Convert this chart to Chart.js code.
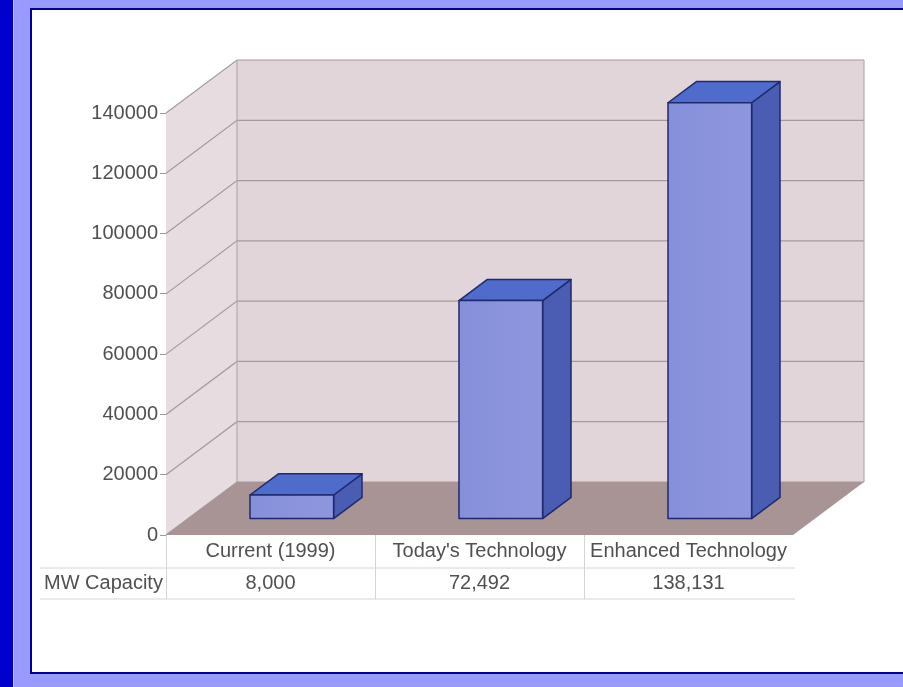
<!DOCTYPE html>
<html>
<head>
<meta charset="utf-8">
<title>MW Capacity</title>
<script src="https://cdn.jsdelivr.net/npm/chart.js@4.4.1/dist/chart.umd.min.js"></script>
<style>
  body { margin: 0; }
  #frame {
    position: relative; width: 903px; height: 687px; overflow: hidden;
    background: linear-gradient(to right, #0000cc 0, #0000cc 13px, #c4ccff 13px, #c4ccff 14px, #9999ff 14px);
  }
  #panel {
    position: absolute; left: 30px; top: 8px; width: 900px; height: 662px;
    background: #fff; border: 2px solid #000099;
  }
  #capacity { position: absolute; left: 0; top: 0; }
</style>
</head>
<body>
<div id="frame">
  <div id="panel"></div>
  <canvas id="capacity" width="903" height="687"></canvas>
</div>
<script>
// data
const scenarios = ['Current (1999)', "Today's Technology", 'Enhanced Technology'];
const mwCapacity = [8000, 72492, 138131];
const rowLabel = 'MW Capacity';
const yTicks = [0, 20000, 40000, 60000, 80000, 100000, 120000, 140000];

const textFont = '20px "Liberation Sans", Arial, sans-serif';
const textColor = '#505050';

// depth of the 3d box: back wall offset and bar slot inside it
const depth = { dx: 71, dy: -53 };
const barFront = 0.3, barBack = 0.7;

// walls, floor and gridlines behind the bars
const walls = {
  id: 'walls',
  beforeDatasetsDraw(chart) {
    const { ctx, chartArea: a, scales: { y } } = chart;
    const bl = a.left + depth.dx, br = a.right + depth.dx;
    const top = y.getPixelForValue(140000), bottom = y.getPixelForValue(0);
    ctx.save();
    // left side wall
    ctx.fillStyle = '#e7dde0';
    ctx.beginPath();
    ctx.moveTo(a.left, bottom);
    ctx.lineTo(bl, bottom + depth.dy);
    ctx.lineTo(bl, top + depth.dy);
    ctx.lineTo(a.left, top);
    ctx.closePath();
    ctx.fill();
    // back wall
    ctx.fillStyle = '#e2d5d9';
    ctx.fillRect(bl, top + depth.dy, br - bl, bottom - top);
    // gridlines
    ctx.strokeStyle = '#a39a9c';
    ctx.lineWidth = 1.2;
    yTicks.forEach(v => {
      const py = y.getPixelForValue(v);
      ctx.beginPath();
      ctx.moveTo(a.left, py);
      ctx.lineTo(bl, py + depth.dy);
      ctx.lineTo(br, py + depth.dy);
      ctx.stroke();
    });
    ctx.strokeStyle = '#b3abad';
    ctx.beginPath();
    ctx.moveTo(bl, top + depth.dy);
    ctx.lineTo(bl, bottom + depth.dy);
    ctx.moveTo(br, top + depth.dy);
    ctx.lineTo(br, bottom + depth.dy);
    ctx.stroke();
    // floor
    ctx.fillStyle = '#a89395';
    ctx.beginPath();
    ctx.moveTo(a.left, bottom);
    ctx.lineTo(a.right, bottom);
    ctx.lineTo(br, bottom + depth.dy);
    ctx.lineTo(bl, bottom + depth.dy);
    ctx.closePath();
    ctx.fill();
    ctx.restore();
  }
};

// each bar drawn as a box from the bar element's position
const boxes = {
  id: 'boxes',
  afterDatasetsDraw(chart) {
    const { ctx } = chart;
    const meta = chart.getDatasetMeta(0);
    const fx = depth.dx * barFront, fy = depth.dy * barFront;
    const bx = depth.dx * (barBack - barFront), by = depth.dy * (barBack - barFront);
    ctx.save();
    ctx.lineWidth = 1.5;
    ctx.strokeStyle = '#1f2a6e';
    ctx.lineJoin = 'round';
    meta.data.forEach(bar => {
      const l = bar.x - bar.width / 2 + fx, r = bar.x + bar.width / 2 + fx;
      const t = bar.y + fy, b = bar.base + fy;
      // right face
      ctx.fillStyle = '#4a5db3';
      ctx.beginPath();
      ctx.moveTo(r, b); ctx.lineTo(r + bx, b + by); ctx.lineTo(r + bx, t + by); ctx.lineTo(r, t);
      ctx.closePath(); ctx.fill(); ctx.stroke();
      // top face
      ctx.fillStyle = '#4f6ccc';
      ctx.beginPath();
      ctx.moveTo(l, t); ctx.lineTo(l + bx, t + by); ctx.lineTo(r + bx, t + by); ctx.lineTo(r, t);
      ctx.closePath(); ctx.fill(); ctx.stroke();
      // front face
      const g = ctx.createLinearGradient(l, 0, r, 0);
      g.addColorStop(0, '#8690da');
      g.addColorStop(1, '#8e96de');
      ctx.fillStyle = g;
      ctx.fillRect(l, t, r - l, b - t);
      ctx.strokeRect(l, t, r - l, b - t);
    });
    ctx.restore();
  }
};

// data table under the floor
const dataTable = {
  id: 'dataTable',
  afterDraw(chart) {
    const { ctx, chartArea: a, scales: { x } } = chart;
    const row1 = a.bottom + 16, row2 = a.bottom + 48;
    const line1 = a.bottom + 33, line2 = a.bottom + 64;
    const step = (a.right - a.left) / scenarios.length;
    ctx.save();
    ctx.strokeStyle = '#d4d4d4';
    ctx.lineWidth = 1;
    ctx.beginPath();
    ctx.moveTo(40, line1); ctx.lineTo(a.right + 2, line1);
    ctx.moveTo(40, line2); ctx.lineTo(a.right + 2, line2);
    for (let i = 0; i < scenarios.length; i++) {
      const vx = a.left + i * step + 0.5;
      ctx.moveTo(vx, a.bottom); ctx.lineTo(vx, line2);
    }
    ctx.stroke();
    ctx.font = textFont;
    ctx.fillStyle = textColor;
    ctx.textBaseline = 'middle';
    ctx.textAlign = 'left';
    ctx.fillText(rowLabel, 44, row2);
    ctx.textAlign = 'center';
    scenarios.forEach((s, i) => {
      const cx = x.getPixelForValue(i);
      ctx.fillText(s, cx, row1);
      ctx.fillText(mwCapacity[i].toLocaleString('en-US'), cx, row2);
    });
    ctx.restore();
  }
};

new Chart(document.getElementById('capacity'), {
  type: 'bar',
  data: {
    labels: scenarios,
    datasets: [{
      label: rowLabel,
      data: mwCapacity,
      backgroundColor: 'rgba(0,0,0,0)',
      borderWidth: 0,
      barPercentage: 0.4,
      categoryPercentage: 1
    }]
  },
  options: {
    responsive: false,
    animation: false,
    events: [],
    layout: { padding: { left: 30, top: 113, right: 110, bottom: 152 } },
    plugins: { legend: { display: false }, tooltip: { enabled: false } },
    scales: {
      x: { display: false },
      y: {
        min: 0,
        max: 140000,
        afterFit: s => { s.width = 136; },
        afterBuildTicks: s => { s.ticks = yTicks.map(v => ({ value: v })); },
        border: { display: false },
        grid: { drawOnChartArea: false, drawTicks: true, tickLength: 6, color: '#9a9a9a' },
        ticks: {
          padding: 2,
          color: textColor,
          font: { family: '"Liberation Sans", Arial, sans-serif', size: 20 },
          callback: v => String(v)
        }
      }
    }
  },
  plugins: [walls, boxes, dataTable]
});
</script>
</body>
</html>
